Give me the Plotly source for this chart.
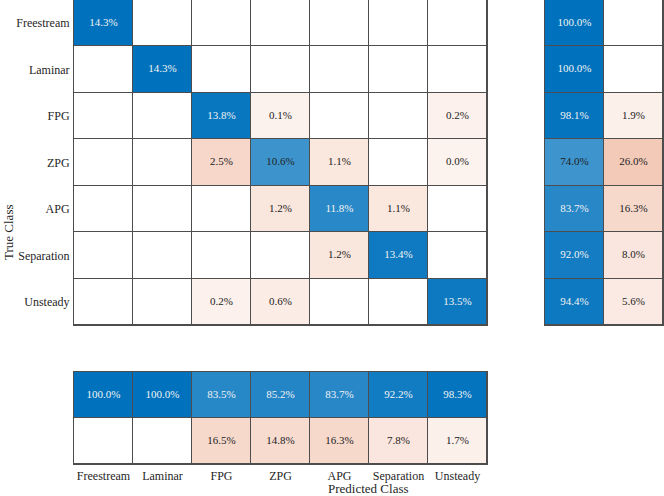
import plotly.graph_objects as go

# class names (true = rows, predicted = columns)
classes = ["Freestream", "Laminar", "FPG", "ZPG", "APG", "Separation", "Unsteady"]

# confusion matrix in % of total, None = empty cell
pct = [
    [14.3, None, None, None, None, None, None],
    [None, 14.3, None, None, None, None, None],
    [None, None, 13.8, 0.1, None, None, 0.2],
    [None, None, 2.5, 10.6, 1.1, None, 0.0],
    [None, None, None, 1.2, 11.8, 1.1, None],
    [None, None, None, None, 1.2, 13.4, None],
    [None, None, 0.2, 0.6, None, None, 13.5],
]

# row summary (true positive rate / false negative rate)
row_correct = [100.0, 100.0, 98.1, 74.0, 83.7, 92.0, 94.4]
row_wrong = [None, None, 1.9, 26.0, 16.3, 8.0, 5.6]

# column summary (precision / false discovery rate)
col_correct = [100.0, 100.0, 83.5, 85.2, 83.7, 92.2, 98.3]
col_wrong = [None, None, 16.5, 14.8, 16.3, 7.8, 1.7]

summary_keys = ["correct", "wrong"]

BLUE = "rgb(0,114,189)"
ORANGE = "rgb(217,83,25)"
GRID = "#4d4d4d"
FONT = "Liberation Serif, Times New Roman, serif"


def shade(v, vmax, good):
    # signed intensity: + blue (correct), - orange (wrong), 0 white
    if v is None:
        return 0
    a = 0.07 + 0.93 * v / vmax
    return a if good else -a


def txt_color(v, vmax, good):
    if v is None or not good:
        return "#222222"
    return "#f2f2f2" if 0.07 + 0.93 * v / vmax > 0.8 else "#222222"


def panel(rows, xs, ys, goodmask, vmax, xa, ya):
    z = [[shade(v, vmax, goodmask[i][j]) for j, v in enumerate(r)] for i, r in enumerate(rows)]
    hm = go.Heatmap(z=z, x=xs, y=ys, zmin=-1, zmax=1,
                    colorscale=[[0, ORANGE], [0.5, "white"], [1, BLUE]],
                    showscale=False, xgap=1, ygap=1, hoverinfo="skip",
                    xaxis=xa, yaxis=ya)
    tx, ty, tt, tc = [], [], [], []
    for i, r in enumerate(rows):
        for j, v in enumerate(r):
            if v is None:
                continue
            tx.append(xs[j]); ty.append(ys[i])
            tt.append(f"{v:.1f}%")
            tc.append(txt_color(v, vmax, goodmask[i][j]))
    sc = go.Scatter(x=tx, y=ty, text=tt, mode="text",
                    textfont=dict(family=FONT, size=11, color=tc),
                    hoverinfo="skip", xaxis=xa, yaxis=ya)
    return [hm, sc]


n = len(classes)
main_good = [[i == j for j in range(n)] for i in range(n)]
main_max = max(v for r in pct for v in r if v is not None)

right_rows = [[row_correct[i], row_wrong[i]] for i in range(n)]
right_good = [[True, False] for _ in range(n)]

bottom_rows = [col_correct, col_wrong]
bottom_good = [[True] * n, [False] * n]

fig = go.Figure()
fig.add_traces(panel(pct, classes, classes, main_good, main_max, "x", "y"))
fig.add_traces(panel(right_rows, summary_keys, classes, right_good, 100.0, "x2", "y2"))
fig.add_traces(panel(bottom_rows, classes, summary_keys, bottom_good, 100.0, "x3", "y3"))

ax = dict(showline=True, mirror=True, linecolor=GRID, linewidth=1,
          showgrid=False, zeroline=False, ticks="", fixedrange=True,
          tickfont=dict(family=FONT, size=12))
main_x = [74 / 664, 487 / 664]
main_y = [1 - 325 / 496, 1.0]

fig.update_layout(
    width=664, height=496,
    margin=dict(l=0, r=0, t=0, b=0),
    paper_bgcolor="white", plot_bgcolor=GRID,
    showlegend=False,
    font=dict(family=FONT, size=12, color="#262626"),
    xaxis=dict(ax, domain=main_x, anchor="y", showticklabels=False,
               categoryorder="array", categoryarray=classes),
    yaxis=dict(ax, domain=main_y, anchor="x", autorange="reversed",
               categoryorder="array", categoryarray=classes, ticklabelstandoff=1),
    xaxis2=dict(ax, domain=[545 / 664, 663 / 664], anchor="y2", showticklabels=False,
                categoryorder="array", categoryarray=summary_keys),
    yaxis2=dict(ax, domain=main_y, anchor="x2", autorange="reversed", showticklabels=False,
                categoryorder="array", categoryarray=classes),
    xaxis3=dict(ax, domain=main_x, anchor="y3", ticklabelstandoff=1,
                categoryorder="array", categoryarray=classes),
    yaxis3=dict(ax, domain=[1 - 464 / 496, 1 - 372 / 496], anchor="x3",
                autorange="reversed", showticklabels=False,
                categoryorder="array", categoryarray=summary_keys),
    annotations=[
        dict(text="Predicted Class", xref="paper", yref="paper", x=368 / 664, y=1 - 488 / 496,
             xanchor="center", yanchor="middle", showarrow=False, borderpad=0,
             font=dict(size=13)),
        dict(text="True Class", xref="paper", yref="paper", x=8 / 664, y=1 - 232 / 496,
             xanchor="center", yanchor="middle", showarrow=False, textangle=-90,
             borderpad=0, font=dict(size=13)),
    ],
)

# drop the default page margin so the figure fills the window exactly
fig.write_html("out.html", config={"displayModeBar": False},
               post_script="document.body.style.margin='0';document.body.style.overflow='hidden';")
